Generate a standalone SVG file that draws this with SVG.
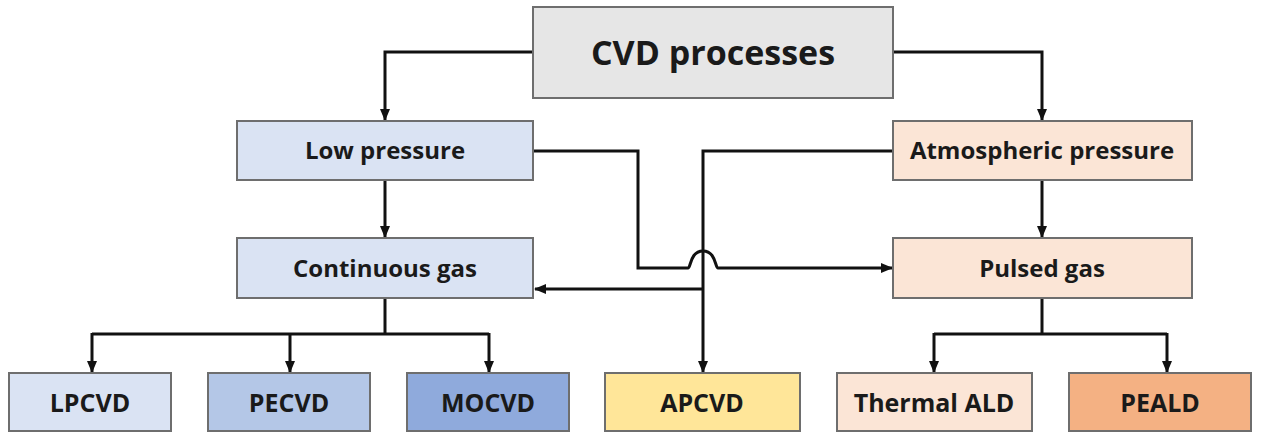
<svg xmlns="http://www.w3.org/2000/svg" width="1263" height="432" viewBox="0 0 1263 432">
<style>
.box{stroke:#6e6e6e;stroke-width:2}
.t{font-family:"Open Sans","Liberation Sans",sans-serif;font-weight:bold;font-size:24px;fill:#1a1a1a;text-anchor:middle}
.big{font-size:34px}
.b{font-size:25px}
.c{fill:none;stroke:#111;stroke-width:3}
</style>
<defs>
<marker id="ah" markerUnits="userSpaceOnUse" markerWidth="12" markerHeight="12" viewBox="0 0 12 12" refX="11" refY="6" orient="auto">
<path d="M0,1 L12,6 L0,11 Z" fill="#111"/>
</marker>
</defs>
<rect width="1263" height="432" fill="#ffffff"/>
<g id="connectors">
<path class="c" d="M533 52 H385 V120" marker-end="url(#ah)"/>
<path class="c" d="M893 52 H1042 V120" marker-end="url(#ah)"/>
<path class="c" d="M385 180 V237" marker-end="url(#ah)"/>
<path class="c" d="M1042 180 V237" marker-end="url(#ah)"/>
<path class="c" d="M533 151 H638 V268 H688 C691 268 690 251 703 251 C716 251 715 268 718 268 H892" marker-end="url(#ah)"/>
<path class="c" d="M893 151 H703 V372" marker-end="url(#ah)"/>
<path class="c" d="M703 289 H535" marker-end="url(#ah)"/>
<path class="c" d="M385 298 V334"/>
<path class="c" d="M92 334 H489"/>
<path class="c" d="M92 333 V372" marker-end="url(#ah)"/>
<path class="c" d="M290 333 V372" marker-end="url(#ah)"/>
<path class="c" d="M489 333 V372" marker-end="url(#ah)"/>
<path class="c" d="M1042 298 V334"/>
<path class="c" d="M934 334 H1167"/>
<path class="c" d="M934 333 V372" marker-end="url(#ah)"/>
<path class="c" d="M1167 333 V372" marker-end="url(#ah)"/>
</g>
<g id="cvd"><rect class="box" x="533" y="7" width="360" height="91" fill="#e6e6e6"/><text class="t big" x="713" y="65">CVD processes</text></g>
<g id="low"><rect class="box" x="237" y="121" width="296" height="59" fill="#dae3f3"/><text class="t" x="385" y="159">Low pressure</text></g>
<g id="atm"><rect class="box" x="893" y="121" width="299" height="59" fill="#fbe5d6"/><text class="t" x="1042" y="159">Atmospheric pressure</text></g>
<g id="cont"><rect class="box" x="237" y="238" width="296" height="60" fill="#dae3f3"/><text class="t" x="385" y="277">Continuous gas</text></g>
<g id="pulsed"><rect class="box" x="893" y="238" width="299" height="60" fill="#fbe5d6"/><text class="t" x="1042" y="277">Pulsed gas</text></g>
<g id="lpcvd"><rect class="box" x="9" y="373" width="162" height="58" fill="#dae3f3"/><text class="t b" x="90" y="412">LPCVD</text></g>
<g id="pecvd"><rect class="box" x="208" y="373" width="162" height="58" fill="#b4c7e7"/><text class="t b" x="289" y="412">PECVD</text></g>
<g id="mocvd"><rect class="box" x="407" y="373" width="162" height="58" fill="#8faadc"/><text class="t b" x="488" y="412">MOCVD</text></g>
<g id="apcvd"><rect class="box" x="605" y="373" width="195" height="58" fill="#ffe699"/><text class="t b" x="702" y="412">APCVD</text></g>
<g id="thermal"><rect class="box" x="837" y="373" width="195" height="58" fill="#fbe5d6"/><text class="t b" x="934" y="412">Thermal ALD</text></g>
<g id="peald"><rect class="box" x="1069" y="373" width="182" height="58" fill="#f4b183"/><text class="t b" x="1160" y="412">PEALD</text></g>
</svg>
